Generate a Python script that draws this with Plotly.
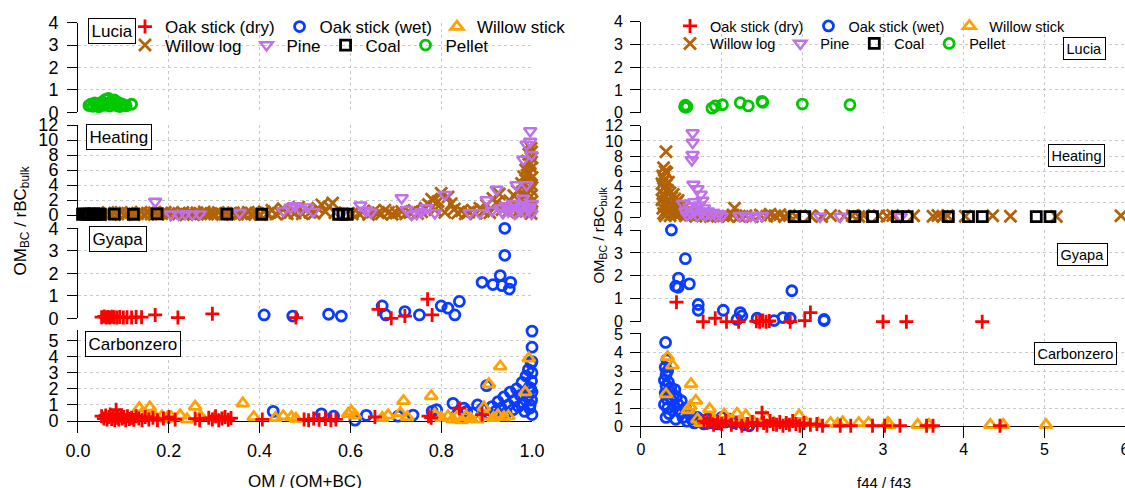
import plotly.graph_objects as go

FONT = "Liberation Sans, Arial, sans-serif"
W, H = 1125, 488

# ---------------------------------------------------------------------------
# Measurements: (x, OM_BC / rBC_bulk) pairs.
# *_om  -> x is OM / (OM+BC)       (left panel)
# *_f   -> x is f44 / f43          (right panel)
# ---------------------------------------------------------------------------

# Lucia stove
lucia_pellet_om = [(0.024, 0.30), (0.028, 0.36), (0.033, 0.27), (0.037, 0.42), (0.041, 0.33),
                   (0.046, 0.25), (0.050, 0.38), (0.054, 0.47), (0.058, 0.31), (0.061, 0.58),
                   (0.064, 0.40), (0.067, 0.62), (0.070, 0.28), (0.073, 0.49), (0.077, 0.36),
                   (0.080, 0.55), (0.084, 0.30), (0.088, 0.44), (0.092, 0.26), (0.096, 0.38),
                   (0.101, 0.33), (0.106, 0.29), (0.118, 0.36)]
lucia_pellet_f = [(0.54, 0.26), (0.55, 0.30), (0.56, 0.24), (0.55, 0.33), (0.57, 0.27),
                  (0.88, 0.20), (0.92, 0.30), (1.01, 0.35), (1.23, 0.44), (1.33, 0.30),
                  (1.50, 0.50), (1.51, 0.46), (2.00, 0.38), (2.59, 0.35)]

# Heating stove
heating_willowlog_om = [
    (0.058, 0.15), (0.066, 0.32), (0.072, 0.08), (0.081, 0.26), (0.088, 0.12), (0.095, 0.35),
    (0.103, 0.05), (0.109, 0.22), (0.117, 0.30), (0.124, 0.10), (0.131, 0.18), (0.139, 0.38),
    (0.146, 0.06), (0.153, 0.25), (0.161, 0.14), (0.168, 0.31), (0.176, 0.09), (0.184, 0.20),
    (0.192, 0.36), (0.199, 0.12), (0.207, 0.27), (0.215, 0.04), (0.222, 0.19), (0.231, 0.33),
    (0.239, 0.11), (0.246, 0.24), (0.254, 0.07), (0.262, 0.29), (0.270, 0.16), (0.278, 0.40),
    (0.285, 0.09), (0.293, 0.21), (0.301, 0.13), (0.309, 0.34), (0.318, 0.06), (0.326, 0.23),
    (0.334, 0.15), (0.342, 0.30), (0.351, 0.10), (0.359, 0.26), (0.367, 0.05), (0.375, 0.37),
    (0.383, 0.17), (0.392, 0.28), (0.401, 0.08), (0.410, 0.45), (0.418, 0.20), (0.427, 0.62),
    (0.436, 0.12), (0.445, 0.33), (0.452, 0.85), (0.461, 0.18), (0.470, 0.55), (0.478, 0.28),
    (0.486, 1.05), (0.494, 0.15), (0.503, 0.70), (0.511, 0.35), (0.520, 0.22), (0.528, 0.90),
    (0.537, 1.35), (0.545, 0.48), (0.553, 1.10), (0.561, 1.60), (0.566, 0.30), (0.604, 0.12),
    (0.618, 0.25), (0.627, 0.40), (0.640, 0.08), (0.652, 0.55), (0.661, 0.30), (0.668, 0.18),
    (0.676, 0.65), (0.684, 0.35), (0.692, 0.10), (0.701, 0.28), (0.713, 0.48), (0.722, 0.15),
    (0.731, 0.33), (0.740, 0.60), (0.748, 0.20), (0.757, 0.42), (0.765, 0.90), (0.772, 1.40),
    (0.779, 2.10), (0.786, 0.70), (0.793, 1.80), (0.800, 2.90), (0.808, 0.35), (0.815, 2.40),
    (0.822, 1.50), (0.829, 0.80), (0.836, 0.25), (0.845, 0.55), (0.853, 0.18), (0.861, 0.40),
    (0.869, 0.65), (0.877, 0.22), (0.885, 0.90), (0.893, 0.50), (0.900, 1.30), (0.907, 0.30),
    (0.914, 2.20), (0.921, 1.60), (0.928, 2.80), (0.934, 0.70), (0.940, 1.10), (0.946, 0.40),
    (0.951, 1.90), (0.956, 0.85), (0.960, 2.60), (0.964, 1.40), (0.968, 3.20), (0.971, 0.60),
    (0.974, 2.00), (0.977, 4.20), (0.979, 3.00), (0.982, 5.10), (0.984, 1.20), (0.986, 6.00),
    (0.988, 4.60), (0.990, 7.20), (0.992, 3.60), (0.993, 8.10), (0.995, 5.60), (0.996, 6.80),
    (0.997, 2.50), (0.998, 8.90), (0.999, 4.00), (1.000, 7.60), (1.000, 1.80), (0.999, 6.30),
    (0.996, 0.90), (0.991, 2.90), (0.987, 0.50), (0.981, 1.70), (0.976, 0.30), (0.989, 5.30),
    (0.994, 7.00), (0.997, 3.40), (1.000, 5.00), (0.998, 0.20), (0.999, 8.40)]
heating_pine_om = [
    (0.170, 1.80), (0.205, 0.10), (0.222, 0.05), (0.236, 0.15), (0.252, 0.08), (0.268, 0.12),
    (0.356, 0.30), (0.452, 0.55), (0.468, 1.00), (0.478, 1.20), (0.490, 0.75), (0.505, 1.05),
    (0.518, 0.45), (0.580, 0.20), (0.622, 1.30), (0.635, 0.60), (0.645, 0.35), (0.713, 2.27),
    (0.724, 0.70), (0.735, 0.05), (0.746, 0.15), (0.756, 0.40), (0.768, 0.93), (0.786, 0.27),
    (0.808, 2.70), (0.863, 0.27), (0.885, 0.27), (0.900, 2.00), (0.912, 0.60), (0.922, 3.40),
    (0.930, 0.90), (0.936, 0.30), (0.942, 1.20), (0.948, 0.50), (0.953, 0.80), (0.958, 1.50),
    (0.962, 0.20), (0.966, 4.00), (0.970, 1.00), (0.974, 0.60), (0.978, 1.30), (0.980, 2.20),
    (0.981, 7.40), (0.984, 0.40), (0.988, 4.00), (0.988, 9.40), (0.991, 1.10), (0.994, 0.70),
    (0.996, 11.20), (0.996, 9.80), (0.999, 8.00), (0.999, 0.20), (1.000, 1.50)]
heating_coal_om = [(0.010, 0.10), (0.015, 0.14), (0.020, 0.08), (0.025, 0.12), (0.030, 0.10),
                   (0.035, 0.15), (0.040, 0.09), (0.045, 0.12), (0.049, 0.10), (0.080, 0.12),
                   (0.122, 0.10), (0.174, 0.14), (0.328, 0.12), (0.405, 0.10), (0.574, 0.10),
                   (0.584, 0.12), (0.593, 0.10)]

heating_willowlog_f = [
    (0.31, 8.60), (0.28, 6.50), (0.30, 6.00), (0.27, 5.40), (0.32, 5.80), (0.29, 4.90),
    (0.26, 4.40), (0.31, 4.20), (0.28, 3.80), (0.33, 3.50), (0.27, 3.10), (0.30, 2.70),
    (0.26, 2.30), (0.32, 2.00), (0.29, 1.60), (0.27, 1.20), (0.31, 0.90), (0.28, 0.50),
    (0.30, 0.20), (0.34, 4.60), (0.36, 3.20), (0.38, 2.60), (0.37, 1.80), (0.40, 3.00),
    (0.39, 1.20), (0.42, 2.40), (0.41, 0.70), (0.44, 1.90), (0.43, 0.30), (0.46, 2.20),
    (0.47, 1.10), (0.49, 1.50), (0.48, 0.40), (0.51, 1.00), (0.53, 0.60), (0.35, 0.80),
    (0.33, 1.40), (0.36, 0.20), (0.55, 0.20), (0.58, 0.80), (0.61, 0.30), (0.64, 0.50),
    (0.68, 0.15), (0.72, 0.40), (0.76, 0.20), (0.81, 0.35), (0.86, 0.10), (0.90, 0.25),
    (0.95, 0.15), (1.02, 0.20), (1.08, 0.10), (1.16, 1.20), (1.14, 0.30), (1.22, 0.15),
    (1.30, 0.20), (1.38, 0.10), (1.48, 0.30), (1.56, 0.15), (1.60, 0.40), (1.66, 0.20),
    (1.72, 0.35), (1.78, 0.10), (1.84, 0.25), (1.92, 0.15), (2.10, 0.20), (2.24, 0.10),
    (2.35, 0.25), (2.52, 0.15), (2.62, 0.20), (2.70, 0.10), (2.76, 0.25), (2.95, 0.20),
    (3.05, 0.15), (3.12, 0.25), (3.38, 0.20), (3.62, 0.15), (3.68, 0.25), (3.74, 0.10),
    (3.80, 0.20), (4.02, 0.15), (4.36, 0.20), (4.58, 0.15), (5.15, 0.10), (5.95, 0.20)]
heating_pine_f = [
    (0.64, 11.05), (0.64, 9.80), (0.64, 8.20), (0.63, 7.50), (0.65, 4.30), (0.70, 3.70),
    (0.74, 3.00), (0.76, 2.20), (0.52, 1.80), (0.55, 0.80), (0.57, 0.30), (0.60, 1.40),
    (0.62, 0.50), (0.66, 2.00), (0.68, 1.00), (0.70, 0.20), (0.72, 1.60), (0.75, 0.60),
    (0.78, 1.20), (0.80, 0.30), (0.83, 0.80), (0.86, 0.40), (0.90, 0.60), (0.93, 0.20),
    (0.97, 0.45), (1.00, 0.15), (1.22, 0.20), (1.30, 0.15), (1.36, 0.25), (1.42, 0.10),
    (1.50, 0.20), (2.22, 0.10), (2.47, 0.10), (3.22, 0.10)]
heating_coal_f = [(1.90, 0.08), (2.03, 0.10), (2.65, 0.08), (2.87, 0.10), (3.18, 0.08),
                  (3.30, 0.10), (3.81, 0.08), (4.06, 0.10), (4.23, 0.08), (4.90, 0.10),
                  (5.07, 0.08)]

# Gyapa stove
gyapa_oakdry_om = [(0.052, 0.05), (0.058, 0.08), (0.062, 0.03), (0.066, 0.06), (0.070, 0.04),
                   (0.075, 0.07), (0.080, 0.05), (0.086, 0.03), (0.092, 0.06), (0.100, 0.04),
                   (0.108, 0.05), (0.118, 0.03), (0.128, 0.06), (0.140, 0.05), (0.170, 0.15),
                   (0.220, 0.03), (0.296, 0.20), (0.480, 0.03), (0.662, 0.40), (0.690, 0.00),
                   (0.720, 0.10), (0.770, 0.85), (0.780, 0.15)]
gyapa_oakwet_om = [(0.410, 0.15), (0.473, 0.10), (0.552, 0.18), (0.580, 0.10), (0.670, 0.55),
                   (0.678, 0.15), (0.720, 0.30), (0.752, 0.15), (0.800, 0.55), (0.815, 0.45),
                   (0.830, 0.15), (0.840, 0.75), (0.890, 1.60), (0.914, 1.50), (0.930, 1.90),
                   (0.934, 1.45), (0.953, 1.60), (0.950, 1.30), (0.940, 2.80), (0.940, 4.00)]
gyapa_oakdry_f = [(0.44, 0.85), (0.77, 0.00), (0.92, 0.15), (1.06, 0.00), (1.21, 0.00),
                  (1.43, 0.02), (1.47, 0.00), (1.51, 0.05), (1.55, 0.00), (1.59, 0.03),
                  (1.85, 0.00), (2.03, 0.05), (2.10, 0.40), (3.00, 0.00), (3.29, 0.00),
                  (4.23, 0.00)]
gyapa_oakwet_f = [(0.377, 4.00), (0.55, 2.75), (0.465, 1.90), (0.43, 1.55), (0.46, 1.50),
                  (0.60, 1.65), (0.71, 0.75), (0.71, 0.50), (1.02, 0.50), (1.19, 0.10),
                  (1.23, 0.40), (1.25, 0.25), (1.44, 0.15), (1.65, 0.05), (1.76, 0.18),
                  (1.85, 0.15), (1.87, 1.35), (2.27, 0.10), (2.27, 0.05)]

# Carbonzero stove
carbonzero_oakdry_om = [
    (0.052, 0.30), (0.057, 0.15), (0.061, 0.35), (0.064, 0.10), (0.068, 0.25), (0.071, 0.40),
    (0.074, 0.12), (0.078, 0.30), (0.081, 0.05), (0.084, 0.70), (0.087, 0.20), (0.090, 0.10),
    (0.094, 0.35), (0.097, 0.15), (0.101, 0.25), (0.105, 0.05), (0.109, 0.30), (0.113, 0.12),
    (0.118, 0.20), (0.123, 0.08), (0.128, 0.30), (0.134, 0.15), (0.141, 0.05), (0.148, 0.25),
    (0.156, 0.10), (0.165, 0.20), (0.175, 0.05), (0.188, 0.15), (0.200, 0.25), (0.214, 0.10),
    (0.258, 0.15), (0.268, 0.05), (0.288, 0.20), (0.296, 0.10), (0.303, 0.30), (0.310, 0.05),
    (0.317, 0.15), (0.324, 0.25), (0.331, 0.08), (0.337, 0.18), (0.406, 0.10), (0.498, 0.10),
    (0.508, 0.05), (0.519, 0.15), (0.531, 0.08), (0.545, 0.12), (0.557, 0.05), (0.568, 0.10),
    (0.654, 0.25), (0.772, 0.30), (0.778, 0.20), (0.840, 0.80), (0.890, 0.40)]
carbonzero_oakwet_om = [
    (0.430, 0.60), (0.536, 0.45), (0.563, 0.30), (0.610, 0.05), (0.635, 0.35), (0.705, 0.30),
    (0.738, 0.37), (0.780, 0.60), (0.790, 0.70), (0.826, 1.10), (0.835, 0.40), (0.850, 0.80),
    (0.856, 0.60), (0.870, 0.50), (0.880, 1.00), (0.890, 0.75), (0.900, 2.20), (0.905, 0.45),
    (0.912, 0.90), (0.920, 0.60), (0.925, 1.20), (0.932, 0.80), (0.938, 1.50), (0.943, 0.50),
    (0.948, 1.00), (0.952, 1.80), (0.958, 0.70), (0.962, 1.30), (0.966, 2.00), (0.970, 0.90),
    (0.974, 1.60), (0.978, 2.40), (0.981, 1.10), (0.984, 0.60), (0.987, 2.80), (0.990, 1.50),
    (0.992, 3.20), (0.994, 2.10), (0.996, 1.00), (0.998, 3.60), (0.999, 2.50), (1.000, 3.00),
    (1.000, 1.80), (1.000, 0.40), (1.000, 3.70), (1.000, 4.60), (1.000, 5.60), (0.999, 1.30),
    (0.997, 2.00), (0.995, 0.80)]
carbonzero_willowstick_om = [
    (0.135, 0.80), (0.142, 0.50), (0.150, 0.35), (0.158, 0.85), (0.165, 0.40), (0.172, 0.20),
    (0.185, 0.30), (0.195, 0.15), (0.205, 0.25), (0.225, 0.35), (0.240, 0.10), (0.258, 0.90),
    (0.270, 0.30), (0.300, 0.20), (0.320, 0.15), (0.363, 1.10), (0.387, 0.25), (0.435, 0.20),
    (0.452, 0.30), (0.470, 0.25), (0.480, 0.15), (0.595, 0.45), (0.602, 0.60), (0.610, 0.35),
    (0.670, 0.20), (0.683, 0.35), (0.710, 0.50), (0.717, 1.25), (0.725, 0.25), (0.778, 1.55),
    (0.786, 0.40), (0.800, 0.20), (0.815, 0.30), (0.825, 0.10), (0.835, 0.25), (0.845, 0.05),
    (0.855, 0.30), (0.865, 0.15), (0.880, 0.10), (0.894, 0.85), (0.898, 0.30), (0.905, 2.30),
    (0.915, 0.20), (0.925, 0.35), (0.930, 3.40), (0.938, 0.25), (0.948, 0.30), (0.985, 1.80),
    (0.993, 3.90)]
carbonzero_oakdry_f = [
    (0.78, 0.30), (0.82, 0.20), (0.86, 0.35), (0.90, 0.10), (0.95, 0.25), (1.00, 0.15),
    (1.05, 0.30), (1.12, 0.10), (1.18, 0.20), (1.25, 0.05), (1.32, 0.15), (1.38, 0.25),
    (1.44, 0.10), (1.50, 0.75), (1.52, 0.20), (1.56, 0.05), (1.60, 0.30), (1.64, 0.15),
    (1.68, 0.10), (1.72, 0.25), (1.76, 0.05), (1.80, 0.20), (1.84, 0.10), (1.88, 0.30),
    (1.92, 0.15), (1.97, 0.05), (2.02, 0.20), (2.10, 0.10), (2.18, 0.15), (2.25, 0.05),
    (2.47, 0.05), (2.60, 0.05), (2.87, 0.05), (3.02, 0.05), (3.21, 0.05), (3.54, 0.05),
    (3.62, 0.05), (4.45, 0.05)]
carbonzero_oakwet_f = [
    (0.305, 4.54), (0.32, 3.60), (0.30, 3.20), (0.31, 2.80), (0.29, 2.50), (0.33, 3.00),
    (0.31, 2.20), (0.30, 1.80), (0.32, 1.50), (0.29, 1.20), (0.34, 2.40), (0.33, 1.00),
    (0.35, 0.70), (0.31, 0.50), (0.36, 1.90), (0.38, 1.40), (0.37, 2.10), (0.40, 1.70),
    (0.39, 0.90), (0.42, 2.00), (0.41, 1.10), (0.44, 1.60), (0.43, 0.40), (0.46, 1.20),
    (0.48, 0.80), (0.50, 1.40), (0.52, 0.50), (0.55, 1.00), (0.57, 0.30), (0.60, 0.70),
    (0.63, 0.40), (0.66, 0.20), (0.70, 0.50), (0.74, 0.30), (0.78, 0.15), (0.82, 0.40),
    (0.86, 0.20), (0.90, 0.35), (0.95, 0.15), (1.00, 0.50), (1.05, 0.25), (1.10, 0.40),
    (1.15, 0.20), (1.22, 0.30), (1.28, 0.10), (1.34, 0.05)]
carbonzero_willowstick_f = [
    (0.33, 3.76), (0.39, 3.30), (0.31, 1.75), (0.62, 2.30), (0.68, 1.40), (0.58, 0.90),
    (0.61, 1.10), (0.70, 0.40), (0.74, 0.20), (0.85, 0.95), (0.90, 0.40), (1.03, 0.65),
    (1.10, 0.30), (1.19, 0.70), (1.25, 0.20), (1.30, 0.60), (1.40, 0.25), (1.55, 0.50),
    (1.65, 0.20), (1.80, 0.15), (1.96, 0.60), (2.05, 0.20), (2.20, 0.15), (2.35, 0.20),
    (2.44, 0.15), (2.50, 0.25), (2.70, 0.20), (2.82, 0.20), (3.06, 0.20), (3.08, 0.10),
    (3.43, 0.10), (3.57, 0.10), (4.33, 0.10), (4.49, 0.10), (5.02, 0.10)]

STOVES = ["Lucia", "Heating", "Gyapa", "Carbonzero"]

# (stove, fuel, left-panel pairs, right-panel pairs); listed bottom-to-top drawing order
SERIES = [
    ("Lucia", "Pellet", lucia_pellet_om, lucia_pellet_f),
    ("Heating", "Willow log", heating_willowlog_om, heating_willowlog_f),
    ("Heating", "Pine", heating_pine_om, heating_pine_f),
    ("Heating", "Coal", heating_coal_om, heating_coal_f),
    ("Gyapa", "Oak stick (wet)", gyapa_oakwet_om, gyapa_oakwet_f),
    ("Gyapa", "Oak stick (dry)", gyapa_oakdry_om, gyapa_oakdry_f),
    ("Carbonzero", "Oak stick (wet)", carbonzero_oakwet_om, carbonzero_oakwet_f),
    ("Carbonzero", "Willow stick", carbonzero_willowstick_om, carbonzero_willowstick_f),
    ("Carbonzero", "Oak stick (dry)", carbonzero_oakdry_om, carbonzero_oakdry_f),
]

# Fuel styles and legend placement (row 1 / row 2, rank inside the row)
FUEL_STYLE = {
    "Oak stick (dry)": dict(symbol="cross-thin-open", color="#FF0000", size=10, width=2.8, row=1, rank=1),
    "Oak stick (wet)": dict(symbol="circle-open", color="#0A3CFF", size=10, width=2.8, row=1, rank=2),
    "Willow stick": dict(symbol="triangle-up-open", color="#FFA200", size=11, width=2.8, row=1, rank=3),
    "Willow log": dict(symbol="x-thin-open", color="#B26208", size=12, width=2.8, row=2, rank=4),
    "Pine": dict(symbol="triangle-down-open", color="#C070E8", size=11, width=2.4, row=2, rank=5),
    "Coal": dict(symbol="square-open", color="#000000", size=10, width=2.8, row=2, rank=6),
    "Pellet": dict(symbol="circle-open", color="#00C800", size=10, width=2.8, row=2, rank=7),
}

GRID = "#C8C8C8"

# Pixel geometry of the two stacked panels
LEFT_SPAN = (78, 532)
RIGHT_SPAN = (641, 1125)
LEFT_ROWS = {"Lucia": (22.7, 112.3, [0, 4], 1), "Heating": (125, 215, [0, 12], 2),
             "Gyapa": (228.3, 318.3, [0, 4], 1), "Carbonzero": (330, 433, [-0.747, 5.67], 1)}
RIGHT_ROWS = {"Lucia": (21.7, 112.7, [0, 4], 1), "Heating": (125.7, 217.3, [0, 12], 2),
              "Gyapa": (230, 321.7, [0, 4], 1), "Carbonzero": (333, 438, [-0.61, 5.05], 1)}

LEFT_FS = 17          # labels / legend, left graph
RIGHT_FS = 14.5       # labels / legend, right graph
LEFT_TICK_FS = 18
RIGHT_TICK_FS = 16


def axis_index(panel, stove):
    return STOVES.index(stove) + 1 + (0 if panel == "left" else 4)


def unzip(pairs):
    return [p[0] for p in pairs], [p[1] for p in pairs]


fig = go.Figure()

legend_done = set()
for stove, fuel, pairs_om, pairs_f in SERIES:
    st = FUEL_STYLE[fuel]
    marker = dict(symbol=st["symbol"], size=st["size"], color=st["color"],
                  line=dict(width=st["width"], color=st["color"]))
    for panel, pairs in (("left", pairs_om), ("right", pairs_f)):
        n = axis_index(panel, stove)
        xs, ys = unzip(pairs)
        key = (panel, fuel)
        show = key not in legend_done
        legend_done.add(key)
        legend_name = {("left", 1): "legend", ("left", 2): "legend2",
                       ("right", 1): "legend3", ("right", 2): "legend4"}[(panel, st["row"])]
        fig.add_trace(go.Scatter(
            x=xs, y=ys, mode="markers", name=fuel, marker=marker,
            xaxis=f"x{n}", yaxis=f"y{n}", cliponaxis=False,
            showlegend=show, legend=legend_name, legendgroup=panel + fuel,
            legendrank=st["rank"], hoverinfo="skip"))

layout_axes = {}
for panel, rows, span, tfs in (("left", LEFT_ROWS, LEFT_SPAN, LEFT_TICK_FS),
                               ("right", RIGHT_ROWS, RIGHT_SPAN, RIGHT_TICK_FS)):
    for stove in STOVES:
        n = axis_index(panel, stove)
        top, bot, yr, dt = rows[stove]
        bottom = stove == "Carbonzero"
        xname = "xaxis" if n == 1 else f"xaxis{n}"
        yname = "yaxis" if n == 1 else f"yaxis{n}"
        layout_axes[xname] = dict(
            domain=[span[0] / W, span[1] / W],
            range=[0, 1] if panel == "left" else [0, 6],
            anchor=f"y{n}", tick0=0, dtick=0.2 if panel == "left" else 1,
            tickformat=".1f" if panel == "left" else "d",
            showgrid=True, gridcolor=GRID, griddash="dot", gridwidth=1,
            zeroline=False, showline=False, automargin=False,
            showticklabels=bottom, ticks="inside" if bottom else "",
            ticklen=12 if panel == "left" else 11, tickwidth=1, tickcolor="black",
            ticklabelstandoff=5 if panel == "left" else 0, ticklabeloverflow="allow",
            tickfont=dict(family=FONT, size=tfs, color="black"), fixedrange=True)
        layout_axes[yname] = dict(
            domain=[1 - bot / H, 1 - top / H], range=yr, anchor=f"x{n}",
            tick0=0, dtick=dt, showline=True, linecolor="black", linewidth=1,
            ticks="outside", ticklen=10, tickwidth=1, tickcolor="black",
            ticklabelstandoff=5 if panel == "left" else 4, automargin=False,
            showgrid=True, gridcolor=GRID, griddash="dot", gridwidth=1,
            zeroline=bottom, zerolinecolor="black", zerolinewidth=1,
            tickfont=dict(family=FONT, size=tfs, color="black"), fixedrange=True)

annotations = []

# Stove name boxes
LEFT_BOX = {"Lucia": (111.5, 30.7), "Heating": (119, 136.8), "Gyapa": (117.5, 238.7),
            "Carbonzero": (133, 344)}
RIGHT_BOX = {"Lucia": (1084.5, 48.5), "Heating": (1076.5, 155.5), "Gyapa": (1082, 254.2),
             "Carbonzero": (1075, 353.7)}
for boxes, fs in ((LEFT_BOX, LEFT_FS), (RIGHT_BOX, RIGHT_FS)):
    for stove, (cx, cy) in boxes.items():
        annotations.append(dict(
            text=stove, x=cx / W, y=1 - cy / H, xref="paper", yref="paper",
            xanchor="center", yanchor="middle", showarrow=False,
            font=dict(family=FONT, size=fs, color="black"),
            bgcolor="white", bordercolor="black", borderwidth=1, borderpad=2.5))

# Axis titles
YTITLE = "OM<sub>BC</sub> / rBC<sub>bulk</sub>"
annotations += [
    dict(text="OM / (OM+BC)", x=305 / W, y=1 - 481 / H, xref="paper", yref="paper",
         xanchor="center", yanchor="middle", showarrow=False,
         font=dict(family=FONT, size=LEFT_FS, color="black")),
    dict(text="f44 / f43", x=884 / W, y=1 - 482 / H, xref="paper", yref="paper",
         xanchor="center", yanchor="middle", showarrow=False,
         font=dict(family=FONT, size=RIGHT_FS + 0.5, color="black")),
    dict(text=YTITLE, x=21.5 / W, y=1 - 221 / H, xref="paper", yref="paper",
         xanchor="center", yanchor="middle", textangle=-90, showarrow=False,
         font=dict(family=FONT, size=LEFT_FS, color="black")),
    dict(text=YTITLE, x=598.6 / W, y=1 - 235 / H, xref="paper", yref="paper",
         xanchor="center", yanchor="middle", textangle=-90, showarrow=False,
         font=dict(family=FONT, size=RIGHT_FS + 0.5, color="black")),
]


def legend_box(x_px, y_px, fs):
    return dict(orientation="h", x=x_px / W, y=1 - y_px / H, xanchor="left", yanchor="middle",
                bgcolor="rgba(0,0,0,0)", borderwidth=0, itemwidth=30, tracegroupgap=0,
                font=dict(family=FONT, size=fs, color="black"), traceorder="normal")


fig.update_layout(
    width=W, height=H, margin=dict(l=0, r=0, t=0, b=0, autoexpand=False),
    paper_bgcolor="white", plot_bgcolor="white",
    font=dict(family=FONT, color="black"),
    showlegend=True,
    legend=legend_box(125, 27, LEFT_FS),
    legend2=legend_box(125, 45.5, LEFT_FS),
    legend3=legend_box(670, 26, RIGHT_FS),
    legend4=legend_box(670, 43.5, RIGHT_FS),
    annotations=annotations,
    **layout_axes,
)

fig.write_html("out.html")
